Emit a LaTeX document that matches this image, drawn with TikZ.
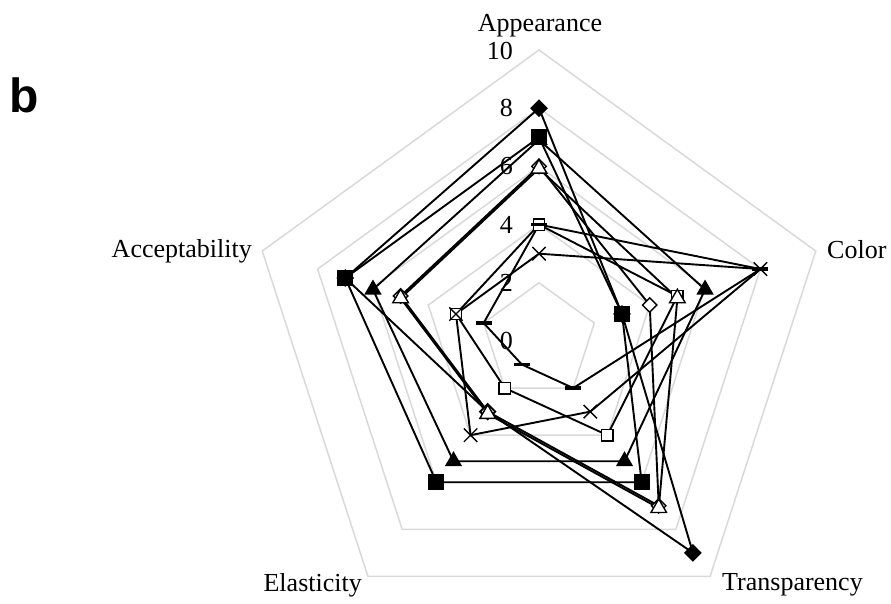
\documentclass[tikz,border=0pt]{standalone}
\usepackage{fontspec}
\setmainfont{Liberation Serif}
\newfontfamily\panelfont{Liberation Sans}
\usetikzlibrary{shapes.geometric,shapes.misc,backgrounds}

\begin{document}
\begin{tikzpicture}
    [
        x=1pt, y=1pt,
        Grid/.style={draw=black!15, line width=1.5pt, line join=miter},
        Series/.style={draw=black, line width=1.9pt},
        AxisName/.style={inner sep=0pt, font=\fontsize{26}{30}\selectfont},
        TickLabel/.style={anchor=east, inner sep=0pt, font=\fontsize{26}{30}\selectfont},
        FilledDiamond/.style={diamond, fill=black, inner sep=0pt, minimum size=18pt},
        OpenDiamond/.style={diamond, draw=black, fill=white, line width=1.4pt, inner sep=0pt, minimum size=15pt},
        FilledSquare/.style={rectangle, fill=black, inner sep=0pt, minimum size=16pt},
        OpenSquare/.style={rectangle, draw=black, fill=white, line width=1.4pt, inner sep=0pt, minimum size=11.5pt},
        FilledTriangle/.style={regular polygon, regular polygon sides=3, fill=black, inner sep=0pt, minimum size=20pt, yshift=-2.5pt},
        OpenTriangle/.style={regular polygon, regular polygon sides=3, draw=black, fill=white, line width=1.4pt, inner sep=0pt, minimum size=18pt, yshift=-2.2pt},
        Cross/.style={cross out, draw=black, line width=1.4pt, inner sep=0pt, minimum size=12pt},
        Dash/.style={rectangle, fill=black, inner sep=0pt, minimum width=16pt, minimum height=3.5pt}
    ]

    \useasboundingbox (0,0) rectangle (891,604);

    \node[inner sep=0pt, font=\panelfont\bfseries\fontsize{48}{50}\selectfont] (panel_label) at (24.5,508.5) {b};

    % axis names
    \node[AxisName] (name_appearance) at (540,578) {Appearance};
    \node[AxisName, anchor=west] (name_color) at (827,354) {Color};
    \node[AxisName, anchor=west] (name_transparency) at (722,19) {Transparency};
    \node[AxisName, anchor=east] (name_elasticity) at (362,19) {Elasticity};
    \node[AxisName, anchor=east] (name_acceptability) at (252,353) {Acceptability};

    % scale
    \node[TickLabel] (tick_0) at (513,263) {0};
    \node[TickLabel] (tick_2) at (513,321.2) {2};
    \node[TickLabel] (tick_4) at (513,379.4) {4};
    \node[TickLabel] (tick_6) at (513,437.6) {6};
    \node[TickLabel] (tick_8) at (513,495.8) {8};
    \node[TickLabel] (tick_10) at (513,553) {10};

    \begin{scope}[shift={(539pt,263pt)}, x=29.1pt, y=29.1pt]

    \begin{scope}[on background layer]
        \draw[Grid] (90:2) -- (18:2) -- (-54:2) -- (-126:2) -- (162:2) -- cycle;
        \draw[Grid] (90:4) -- (18:4) -- (-54:4) -- (-126:4) -- (162:4) -- cycle;
        \draw[Grid] (90:6) -- (18:6) -- (-54:6) -- (-126:6) -- (162:6) -- cycle;
        \draw[Grid] (90:8) -- (18:8) -- (-54:8) -- (-126:8) -- (162:8) -- cycle;
        \draw[Grid] (90:10) -- (18:10) -- (-54:10) -- (-126:10) -- (162:10) -- cycle;
    \end{scope}

    % filled diamond
    \node[FilledDiamond] (fdia_app) at (90:8) {};
    \node[FilledDiamond] (fdia_col) at (18:3) {};
    \node[FilledDiamond] (fdia_tra) at (-54:9) {};
    \node[FilledDiamond] (fdia_ela) at (-126:3) {};
    \node[FilledDiamond] (fdia_acc) at (162:7) {};
    % filled triangle
    \node[FilledTriangle] (ftri_app) at (90:7) {};
    \node[FilledTriangle] (ftri_col) at (18:6) {};
    \node[FilledTriangle] (ftri_tra) at (-54:5) {};
    \node[FilledTriangle] (ftri_ela) at (-126:5) {};
    \node[FilledTriangle] (ftri_acc) at (162:6) {};
    % filled square
    \node[FilledSquare] (fsq_app) at (90:7) {};
    \node[FilledSquare] (fsq_col) at (18:3) {};
    \node[FilledSquare] (fsq_tra) at (-54:6) {};
    \node[FilledSquare] (fsq_ela) at (-126:6) {};
    \node[FilledSquare] (fsq_acc) at (162:7) {};
    % open diamond
    \node[OpenDiamond] (odia_app) at (90:6) {};
    \node[OpenDiamond] (odia_col) at (18:4) {};
    \node[OpenDiamond] (odia_tra) at (-54:7) {};
    \node[OpenDiamond] (odia_ela) at (-126:3) {};
    \node[OpenDiamond] (odia_acc) at (162:5) {};
    % open square
    \node[OpenSquare] (osq_app) at (90:4) {};
    \node[OpenSquare] (osq_col) at (18:5) {};
    \node[OpenSquare] (osq_tra) at (-54:4) {};
    \node[OpenSquare] (osq_ela) at (-126:2) {};
    \node[OpenSquare] (osq_acc) at (162:3) {};
    % cross
    \node[Cross] (x_app) at (90:3) {};
    \node[Cross] (x_col) at (18:8) {};
    \node[Cross] (x_tra) at (-54:3) {};
    \node[Cross] (x_ela) at (-126:4) {};
    \node[Cross] (x_acc) at (162:3) {};
    % dash
    \node[Dash] (dash_app) at (90:4) {};
    \node[Dash] (dash_col) at (18:8) {};
    \node[Dash] (dash_tra) at (-54:2) {};
    \node[Dash] (dash_ela) at (-126:1) {};
    \node[Dash] (dash_acc) at (162:2) {};
    % open triangle
    \node[OpenTriangle] (otri_app) at (90:6) {};
    \node[OpenTriangle] (otri_col) at (18:5) {};
    \node[OpenTriangle] (otri_tra) at (-54:7) {};
    \node[OpenTriangle] (otri_ela) at (-126:3) {};
    \node[OpenTriangle] (otri_acc) at (162:5) {};

    \begin{scope}[on background layer]
        \draw[Series] (fdia_app.center) -- (fdia_col.center) -- (fdia_tra.center) -- (fdia_ela.center) -- (fdia_acc.center) -- (fdia_app.center);
        \draw[Series] (ftri_app.center) -- (ftri_col.center) -- (ftri_tra.center) -- (ftri_ela.center) -- (ftri_acc.center) -- (ftri_app.center);
        \draw[Series] (fsq_app.center) -- (fsq_col.center) -- (fsq_tra.center) -- (fsq_ela.center) -- (fsq_acc.center) -- (fsq_app.center);
        \draw[Series] (odia_app.center) -- (odia_col.center) -- (odia_tra.center) -- (odia_ela.center) -- (odia_acc.center) -- (odia_app.center);
        \draw[Series] (osq_app.center) -- (osq_col.center) -- (osq_tra.center) -- (osq_ela.center) -- (osq_acc.center) -- (osq_app.center);
        \draw[Series] (x_app.center) -- (x_col.center) -- (x_tra.center) -- (x_ela.center) -- (x_acc.center) -- (x_app.center);
        \draw[Series] (dash_app.center) -- (dash_col.center) -- (dash_tra.center) -- (dash_ela.center) -- (dash_acc.center) -- (dash_app.center);
        \draw[Series] (otri_app.center) -- (otri_col.center) -- (otri_tra.center) -- (otri_ela.center) -- (otri_acc.center) -- (otri_app.center);
    \end{scope}

    \end{scope}
\end{tikzpicture}
\end{document}
